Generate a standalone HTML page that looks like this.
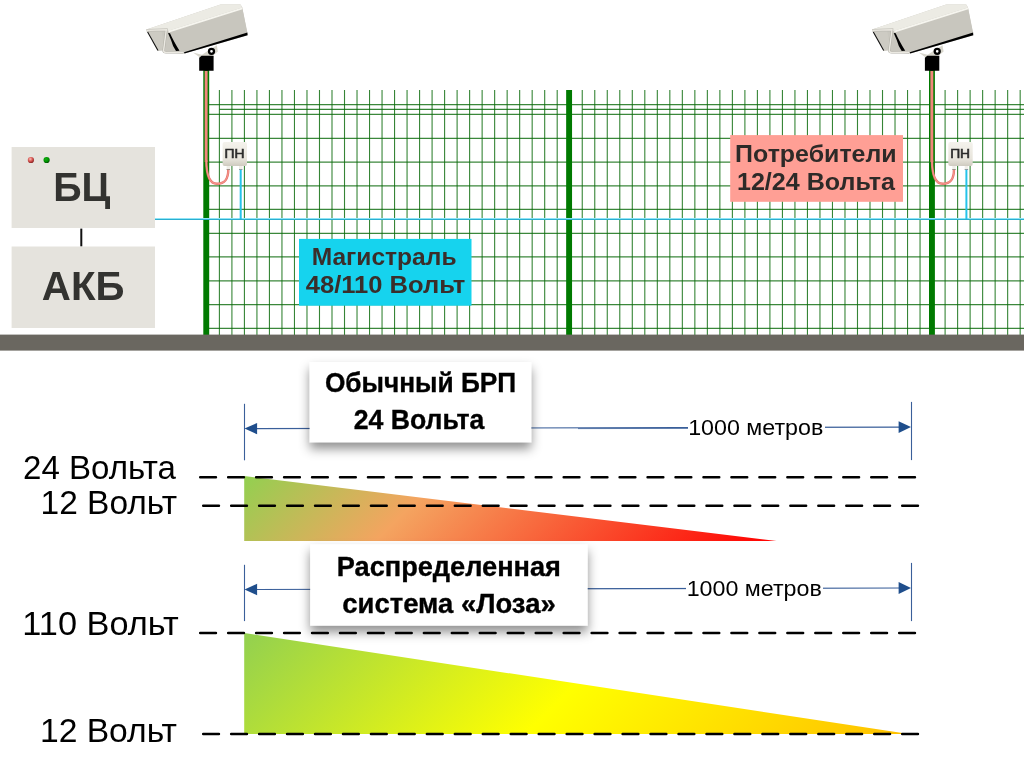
<!DOCTYPE html>
<html><head><meta charset="utf-8"><style>
html,body{margin:0;padding:0;background:#fff;}
svg{display:block;will-change:transform;}
text{font-family:"Liberation Sans",sans-serif;}
</style></head><body>
<svg width="1024" height="761" viewBox="0 0 1024 761">
<defs>
<linearGradient id="g1" x1="244" y1="476" x2="542.5" y2="774.5" gradientUnits="userSpaceOnUse">
<stop offset="0" stop-color="#92d050"/><stop offset="0.33" stop-color="#f4a460"/><stop offset="1" stop-color="#ff0000"/>
</linearGradient>
<linearGradient id="g2" x1="244" y1="633" x2="627" y2="1016" gradientUnits="userSpaceOnUse">
<stop offset="0" stop-color="#92d050"/><stop offset="0.5" stop-color="#ffff00"/><stop offset="1" stop-color="#ffc000"/>
</linearGradient>
<linearGradient id="pn" x1="0" y1="0" x2="0" y2="1">
<stop offset="0" stop-color="#f4f2ec"/><stop offset="0.7" stop-color="#e8e5dc"/><stop offset="1" stop-color="#cfcbc0"/>
</linearGradient>
<radialGradient id="rd" cx="0.4" cy="0.35" r="0.7"><stop offset="0" stop-color="#f8c0b8"/><stop offset="0.5" stop-color="#d85450"/><stop offset="1" stop-color="#7a1a1a"/></radialGradient>
<radialGradient id="gd" cx="0.4" cy="0.35" r="0.7"><stop offset="0" stop-color="#10b010"/><stop offset="0.6" stop-color="#009000"/><stop offset="1" stop-color="#004000"/></radialGradient>
<filter id="sh" x="-10%" y="-20%" width="130%" height="150%">
<feDropShadow dx="0" dy="6.5" stdDeviation="5.5" flood-color="#000" flood-opacity="0.44"/>
</filter>
</defs>
<rect width="1024" height="761" fill="#fff"/>

<g stroke="#0a6a0a" stroke-width="1.1" stroke-opacity="0.82"><line x1="219.40" y1="90" x2="219.40" y2="335"/><line x1="231.91" y1="90" x2="231.91" y2="335"/><line x1="244.42" y1="90" x2="244.42" y2="335"/><line x1="256.93" y1="90" x2="256.93" y2="335"/><line x1="269.44" y1="90" x2="269.44" y2="335"/><line x1="281.95" y1="90" x2="281.95" y2="335"/><line x1="294.47" y1="90" x2="294.47" y2="335"/><line x1="306.98" y1="90" x2="306.98" y2="335"/><line x1="319.49" y1="90" x2="319.49" y2="335"/><line x1="332.00" y1="90" x2="332.00" y2="335"/><line x1="344.51" y1="90" x2="344.51" y2="335"/><line x1="357.02" y1="90" x2="357.02" y2="335"/><line x1="369.53" y1="90" x2="369.53" y2="335"/><line x1="382.04" y1="90" x2="382.04" y2="335"/><line x1="394.55" y1="90" x2="394.55" y2="335"/><line x1="407.06" y1="90" x2="407.06" y2="335"/><line x1="419.58" y1="90" x2="419.58" y2="335"/><line x1="432.09" y1="90" x2="432.09" y2="335"/><line x1="444.60" y1="90" x2="444.60" y2="335"/><line x1="457.11" y1="90" x2="457.11" y2="335"/><line x1="469.62" y1="90" x2="469.62" y2="335"/><line x1="482.13" y1="90" x2="482.13" y2="335"/><line x1="494.64" y1="90" x2="494.64" y2="335"/><line x1="507.15" y1="90" x2="507.15" y2="335"/><line x1="519.66" y1="90" x2="519.66" y2="335"/><line x1="532.17" y1="90" x2="532.17" y2="335"/><line x1="544.69" y1="90" x2="544.69" y2="335"/><line x1="557.20" y1="90" x2="557.20" y2="335"/><line x1="582.25" y1="90" x2="582.25" y2="335"/><line x1="594.76" y1="90" x2="594.76" y2="335"/><line x1="607.27" y1="90" x2="607.27" y2="335"/><line x1="619.78" y1="90" x2="619.78" y2="335"/><line x1="632.29" y1="90" x2="632.29" y2="335"/><line x1="644.80" y1="90" x2="644.80" y2="335"/><line x1="657.32" y1="90" x2="657.32" y2="335"/><line x1="669.83" y1="90" x2="669.83" y2="335"/><line x1="682.34" y1="90" x2="682.34" y2="335"/><line x1="694.85" y1="90" x2="694.85" y2="335"/><line x1="707.36" y1="90" x2="707.36" y2="335"/><line x1="719.87" y1="90" x2="719.87" y2="335"/><line x1="732.38" y1="90" x2="732.38" y2="335"/><line x1="744.89" y1="90" x2="744.89" y2="335"/><line x1="757.40" y1="90" x2="757.40" y2="335"/><line x1="769.91" y1="90" x2="769.91" y2="335"/><line x1="782.43" y1="90" x2="782.43" y2="335"/><line x1="794.94" y1="90" x2="794.94" y2="335"/><line x1="807.45" y1="90" x2="807.45" y2="335"/><line x1="819.96" y1="90" x2="819.96" y2="335"/><line x1="832.47" y1="90" x2="832.47" y2="335"/><line x1="844.98" y1="90" x2="844.98" y2="335"/><line x1="857.49" y1="90" x2="857.49" y2="335"/><line x1="870.00" y1="90" x2="870.00" y2="335"/><line x1="882.51" y1="90" x2="882.51" y2="335"/><line x1="895.02" y1="90" x2="895.02" y2="335"/><line x1="907.54" y1="90" x2="907.54" y2="335"/><line x1="920.05" y1="90" x2="920.05" y2="335"/><line x1="945.10" y1="90" x2="945.10" y2="335"/><line x1="957.61" y1="90" x2="957.61" y2="335"/><line x1="970.12" y1="90" x2="970.12" y2="335"/><line x1="982.63" y1="90" x2="982.63" y2="335"/><line x1="995.14" y1="90" x2="995.14" y2="335"/><line x1="1007.65" y1="90" x2="1007.65" y2="335"/><line x1="1020.17" y1="90" x2="1020.17" y2="335"/><line x1="219.40" y1="109.4" x2="557.20" y2="109.4"/><line x1="582.25" y1="109.4" x2="920.05" y2="109.4"/></g>
<g stroke="#0a6a0a" stroke-width="1.3" stroke-opacity="0.8"><line x1="209" y1="104.60" x2="1024" y2="104.60"/><line x1="209" y1="114.30" x2="1024" y2="114.30"/><line x1="209" y1="138.30" x2="1024" y2="138.30"/><line x1="209" y1="162.20" x2="1024" y2="162.20"/><line x1="209" y1="185.80" x2="1024" y2="185.80"/><line x1="209" y1="209.40" x2="1024" y2="209.40"/><line x1="209" y1="233.40" x2="1024" y2="233.40"/><line x1="209" y1="256.90" x2="1024" y2="256.90"/><line x1="209" y1="280.80" x2="1024" y2="280.80"/><line x1="209" y1="304.60" x2="1024" y2="304.60"/><line x1="209" y1="328.30" x2="1024" y2="328.30"/><line x1="945.10" y1="109.4" x2="1024" y2="109.4"/></g>
<rect x="203.3" y="70" width="5.9" height="265" fill="#007a00"/>
<rect x="566.15" y="90" width="5.9" height="245" fill="#007a00"/>
<rect x="929.0" y="70" width="5.9" height="265" fill="#007a00"/>
<rect x="0" y="334.6" width="1024" height="16" fill="#6a6760"/>
<line x1="155" y1="218.5" x2="1024" y2="218.5" stroke="#8fe4f6" stroke-width="1"/>
<line x1="155" y1="219.5" x2="1024" y2="219.5" stroke="#2aaed0" stroke-width="1.2"/>
<rect x="11.6" y="147" width="143.4" height="81" fill="#e5e3dd"/>
<rect x="11.6" y="246.5" width="143.4" height="81.5" fill="#e5e3dd"/>
<line x1="81.3" y1="228.6" x2="81.3" y2="246.3" stroke="#111" stroke-width="2"/>
<circle cx="30.9" cy="160" r="3.1" fill="url(#rd)"/><circle cx="46.6" cy="160" r="3.1" fill="url(#gd)"/>
<text x="53.14" y="200.9" font-size="40" font-weight="bold" fill="#333330" textLength="57.13" lengthAdjust="spacingAndGlyphs">БЦ</text>
<text x="41.89" y="299.7" font-size="40" font-weight="bold" fill="#333330" textLength="82.68" lengthAdjust="spacingAndGlyphs">АКБ</text>
<g transform="translate(0.00,0)"><path d="M206.15 71 L206.15 162" fill="none" stroke="#f2867c" stroke-width="2.9"/><path d="M206.3 160 C206.3 176 209.5 183.8 217 183.8 C224.5 183.8 228.3 180 228.3 169" fill="none" stroke="#e4706a" stroke-width="2.4"/><path d="M206.3 160 C206.3 176 209.5 183.8 217 183.8 C224.5 183.8 228.3 180 228.3 169" fill="none" stroke="#f5938a" stroke-width="1.3"/><line x1="240.7" y1="168" x2="240.7" y2="219" stroke="#24c3ea" stroke-width="2"/><rect x="226.6" y="165" width="3.4" height="5" fill="#f0eee8"/><rect x="226.6" y="169" width="3.4" height="1" fill="#9a8c84"/><rect x="239" y="165" width="3.4" height="5" fill="#f0eee8"/><rect x="239" y="169" width="3.4" height="1" fill="#8a9ca4"/><rect x="222.6" y="142.1" width="24.4" height="23.8" rx="2" fill="url(#pn)"/><text x="224.47" y="158.2" font-size="12.3" font-weight="normal" fill="#2a2a2a" stroke="#2a2a2a" stroke-width="0.55" textLength="19.95" lengthAdjust="spacingAndGlyphs">ПН</text></g>
<g transform="translate(725.70,0)"><path d="M206.15 71 L206.15 162" fill="none" stroke="#f2867c" stroke-width="2.9"/><path d="M206.3 160 C206.3 176 209.5 183.8 217 183.8 C224.5 183.8 228.3 180 228.3 169" fill="none" stroke="#e4706a" stroke-width="2.4"/><path d="M206.3 160 C206.3 176 209.5 183.8 217 183.8 C224.5 183.8 228.3 180 228.3 169" fill="none" stroke="#f5938a" stroke-width="1.3"/><line x1="240.7" y1="168" x2="240.7" y2="219" stroke="#24c3ea" stroke-width="2"/><rect x="226.6" y="165" width="3.4" height="5" fill="#f0eee8"/><rect x="226.6" y="169" width="3.4" height="1" fill="#9a8c84"/><rect x="239" y="165" width="3.4" height="5" fill="#f0eee8"/><rect x="239" y="169" width="3.4" height="1" fill="#8a9ca4"/><rect x="222.6" y="142.1" width="24.4" height="23.8" rx="2" fill="url(#pn)"/><text x="224.47" y="158.2" font-size="12.3" font-weight="normal" fill="#2a2a2a" stroke="#2a2a2a" stroke-width="0.55" textLength="19.95" lengthAdjust="spacingAndGlyphs">ПН</text></g>
<g transform="translate(0.00,0)"><polygon points="193,52.4 202,54.7 208.4,50.5 216.8,45.3 217.9,51.6 213,55.5 200,57.5" fill="#d8d6cc"/><path d="M199.2 57.8 L201.6 55.8 L213.6 55.8 L213.6 70.8 L199.2 70.8 Z" fill="#000"/><circle cx="211.5" cy="51.3" r="2.5" fill="#fff" stroke="#000" stroke-width="2.3"/><polygon points="146.5,29.6 220.5,4.4 240.5,4.6 242.2,7.2 247.6,35.3 184.5,53.6 166,52.4 163.6,50.3 158,50.7" fill="#c9c7bf"/><polygon points="166,31.5 242.2,7.4 247.4,32.6 184,52.2" fill="#c8c6be"/><polygon points="146.5,29.6 220.5,4.4 240.5,4.6 242.2,7.4 168.2,30.8 147,31.5" fill="#ecebe4"/><polygon points="168.2,30.8 242.2,7.4 242.6,9.2 169,32.4" fill="#f6f5ef"/><polygon points="184,52.2 247.4,32.6 247.6,35.3 184.5,53.6" fill="#000"/><polygon points="147.3,31.5 161.5,31 165,50 158,50.7" fill="#cdcbc3"/><line x1="147.6" y1="32" x2="158" y2="50.6" stroke="#111" stroke-width="1.1"/><path d="M168 33 L170 33.2 Q173 40 179.5 50.8 L176 51 Q172.5 46 171 40 Z" fill="#000"/><path d="M146.5 30.2 L166.3 29.8 L163.6 50.3 Q163.4 52.4 166 52.4 L183.5 52.2" fill="none" stroke="#b1afa7" stroke-width="2.4"/><path d="M146.5 30.2 L166.3 29.8 L163.6 50.3 Q163.4 52.4 166 52.4 L183.5 52.2" fill="none" stroke="#ebe9e2" stroke-width="1.4"/></g>
<g transform="translate(725.70,0)"><polygon points="193,52.4 202,54.7 208.4,50.5 216.8,45.3 217.9,51.6 213,55.5 200,57.5" fill="#d8d6cc"/><path d="M199.2 57.8 L201.6 55.8 L213.6 55.8 L213.6 70.8 L199.2 70.8 Z" fill="#000"/><circle cx="211.5" cy="51.3" r="2.5" fill="#fff" stroke="#000" stroke-width="2.3"/><polygon points="146.5,29.6 220.5,4.4 240.5,4.6 242.2,7.2 247.6,35.3 184.5,53.6 166,52.4 163.6,50.3 158,50.7" fill="#c9c7bf"/><polygon points="166,31.5 242.2,7.4 247.4,32.6 184,52.2" fill="#c8c6be"/><polygon points="146.5,29.6 220.5,4.4 240.5,4.6 242.2,7.4 168.2,30.8 147,31.5" fill="#ecebe4"/><polygon points="168.2,30.8 242.2,7.4 242.6,9.2 169,32.4" fill="#f6f5ef"/><polygon points="184,52.2 247.4,32.6 247.6,35.3 184.5,53.6" fill="#000"/><polygon points="147.3,31.5 161.5,31 165,50 158,50.7" fill="#cdcbc3"/><line x1="147.6" y1="32" x2="158" y2="50.6" stroke="#111" stroke-width="1.1"/><path d="M168 33 L170 33.2 Q173 40 179.5 50.8 L176 51 Q172.5 46 171 40 Z" fill="#000"/><path d="M146.5 30.2 L166.3 29.8 L163.6 50.3 Q163.4 52.4 166 52.4 L183.5 52.2" fill="none" stroke="#b1afa7" stroke-width="2.4"/><path d="M146.5 30.2 L166.3 29.8 L163.6 50.3 Q163.4 52.4 166 52.4 L183.5 52.2" fill="none" stroke="#ebe9e2" stroke-width="1.4"/></g>
<rect x="299" y="238.9" width="172.5" height="66.8" fill="#16d3ee"/>
<text x="311.65" y="265.1" font-size="24" font-weight="bold" fill="#3a2e2a" textLength="144.86" lengthAdjust="spacingAndGlyphs">Магистраль</text>
<text x="305.8" y="292.7" font-size="24" font-weight="bold" fill="#3a2e2a" textLength="159.45" lengthAdjust="spacingAndGlyphs">48/110 Вольт</text>
<rect x="730.2" y="135.1" width="172.8" height="66.7" fill="#ff9f95"/>
<text x="735.12" y="162.1" font-size="24" font-weight="bold" fill="#2e2a28" textLength="161.57" lengthAdjust="spacingAndGlyphs">Потребители</text>
<text x="736.95" y="189.5" font-size="24" font-weight="bold" fill="#2e2a28" textLength="157.98" lengthAdjust="spacingAndGlyphs">12/24 Вольта</text>
<polygon points="244.2,476 776.5,541 244.2,541" fill="url(#g1)"/>
<polygon points="244.2,633 909,734 244.2,734" fill="url(#g2)"/>
<line x1="200.2" y1="477.2" x2="918" y2="477.2" stroke="#000" stroke-width="2.5" stroke-linecap="round" stroke-dasharray="15.76 12.2"/>
<line x1="203.2" y1="505.7" x2="920" y2="505.7" stroke="#000" stroke-width="2.5" stroke-linecap="round" stroke-dasharray="15.76 12.2"/>
<line x1="200.2" y1="633" x2="918" y2="633" stroke="#000" stroke-width="2.5" stroke-linecap="round" stroke-dasharray="15.76 12.2"/>
<line x1="203.2" y1="734" x2="920" y2="734" stroke="#000" stroke-width="2.5" stroke-linecap="round" stroke-dasharray="15.76 12.2"/>
<line x1="244.5" y1="403.8" x2="244.5" y2="460.3" stroke="#3a5f9a" stroke-width="1.1"/><line x1="911.5" y1="401.9" x2="911.5" y2="460.1" stroke="#3a5f9a" stroke-width="1.1"/><line x1="250" y1="428.6" x2="905" y2="427.1" stroke="#3a5f9a" stroke-width="1.2"/><polygon points="244.5,428.6 257.1,422.90000000000003 257.1,434.3" fill="#1f4e8c"/><polygon points="911,427.1 898.6,421.20000000000005 898.6,433.0" fill="#1f4e8c"/>
<line x1="578" y1="428.6" x2="690" y2="428.4" stroke="#3a5f9a" stroke-width="1" stroke-opacity="0.8"/>
<line x1="244.5" y1="564.8" x2="244.5" y2="621.1" stroke="#3a5f9a" stroke-width="1.1"/><line x1="911.5" y1="562.9" x2="911.5" y2="621.1" stroke="#3a5f9a" stroke-width="1.1"/><line x1="250" y1="589.5" x2="905" y2="588.0" stroke="#3a5f9a" stroke-width="1.2"/><polygon points="244.5,589.5 257.1,583.8 257.1,595.2" fill="#1f4e8c"/><polygon points="911,588.0 898.6,582.1 898.6,593.9" fill="#1f4e8c"/>
<rect x="688" y="415" width="137" height="25" fill="#fff"/>
<text x="688.15" y="435.1" font-size="22.7" fill="#000" textLength="135.09" lengthAdjust="spacingAndGlyphs">1000 метров</text>
<rect x="686" y="577" width="137" height="25" fill="#fff"/>
<text x="686.65" y="596.3" font-size="22.7" fill="#000" textLength="135.09" lengthAdjust="spacingAndGlyphs">1000 метров</text>
<rect x="309.7" y="362" width="221.5" height="80.2" fill="#fff" filter="url(#sh)"/>
<text x="324.89" y="392.2" font-size="27" font-weight="bold" fill="#000" stroke="#000" stroke-width="0.35" textLength="191.25" lengthAdjust="spacingAndGlyphs">Обычный БРП</text>
<text x="353.68" y="429" font-size="27" font-weight="bold" fill="#000" stroke="#000" stroke-width="0.35" textLength="130.68" lengthAdjust="spacingAndGlyphs">24 Вольта</text>
<rect x="310.2" y="544.4" width="277.4" height="81.2" fill="#fff" filter="url(#sh)"/>
<text x="336.8" y="575.7" font-size="27" font-weight="bold" fill="#000" stroke="#000" stroke-width="0.35" textLength="224.1" lengthAdjust="spacingAndGlyphs">Распределенная</text>
<text x="342.3" y="613.2" font-size="27" font-weight="bold" fill="#000" stroke="#000" stroke-width="0.35" textLength="213.4" lengthAdjust="spacingAndGlyphs">система «Лоза»</text>
<text x="23.08" y="479" font-size="32.8" fill="#000" textLength="152.76" lengthAdjust="spacingAndGlyphs">24 Вольта</text>
<text x="40.56" y="513.7" font-size="32.8" fill="#000" textLength="136.43" lengthAdjust="spacingAndGlyphs">12 Вольт</text>
<text x="22.31" y="635.4" font-size="32.8" fill="#000" textLength="156.4" lengthAdjust="spacingAndGlyphs">110 Вольт</text>
<text x="39.95" y="742.1" font-size="32.8" fill="#000" textLength="137.04" lengthAdjust="spacingAndGlyphs">12 Вольт</text>
</svg></body></html>
